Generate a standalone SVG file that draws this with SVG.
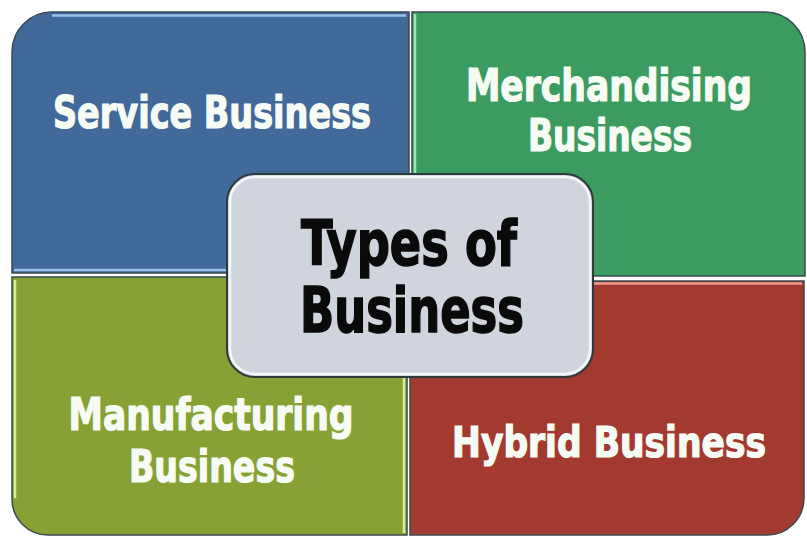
<svg xmlns="http://www.w3.org/2000/svg" width="807" height="536" viewBox="0 0 807 536">
<defs>
<style>
.q{stroke:#3a4a50;stroke-width:1.5}
.hl{fill:none;stroke-width:2.5}
.lbl{font-family:"DejaVu Sans Condensed","DejaVu Sans",sans-serif;font-stretch:condensed;font-weight:bold;fill:#f6fbf4;stroke:#f6fbf4;stroke-width:1.2;text-anchor:middle}
.ctr{font-family:"DejaVu Sans Condensed","DejaVu Sans",sans-serif;font-stretch:condensed;font-weight:bold;fill:#0a0a0a;stroke:#0a0a0a;stroke-width:1.5;text-anchor:middle}
</style>
</defs>
<rect width="807" height="536" fill="#ffffff"/>
<g id="service">
<path class="q" d="M12,52 A40,40 0 0 1 52,12 H409 V273 H12 Z" fill="#41699a"/>
<path class="hl" stroke="#9cc2e6" d="M52,15.5 H406"/>
<path class="hl" stroke="#9cc2e6" d="M14,270 H406"/>
<text class="lbl" x="212" y="128" font-size="44" textLength="318" lengthAdjust="spacingAndGlyphs">Service Business</text>
</g>
<g id="merchandising">
<path class="q" d="M412,12 H765 A40,40 0 0 1 805,52 V276 H412 Z" fill="#3c9b5f"/>
<path class="hl" stroke="#9fe6b5" d="M415,14 V273"/>
<text class="lbl" x="609" y="101" font-size="44" textLength="286" lengthAdjust="spacingAndGlyphs">Merchandising</text>
<text class="lbl" x="610" y="151" font-size="44" textLength="164" lengthAdjust="spacingAndGlyphs">Business</text>
</g>
<g id="manufacturing">
<path class="q" d="M12,277 H407 V535 H48 A36,36 0 0 1 12,499 Z" fill="#87a134"/>
<path class="hl" stroke="#d8ec9a" d="M15,280 V498"/>
<path class="hl" stroke="#d8ec9a" d="M404,378 V533"/>
<text class="lbl" x="211" y="430" font-size="44" textLength="285" lengthAdjust="spacingAndGlyphs">Manufacturing</text>
<text class="lbl" x="212" y="482" font-size="44" textLength="166" lengthAdjust="spacingAndGlyphs">Business</text>
</g>
<g id="hybrid">
<path class="q" d="M410,281 H804 V498 A37,37 0 0 1 767,535 H410 Z" fill="#a33a2f"/>
<path class="hl" stroke="#f19a8a" d="M412,283.5 H802"/>
<text class="lbl" x="609" y="457" font-size="42" textLength="314" lengthAdjust="spacingAndGlyphs">Hybrid Business</text>
</g>
<g id="types-of-business">
<rect x="227" y="174" width="366" height="203" rx="28" fill="#cfd4dd" stroke="#2f3a3a" stroke-width="2"/>
<rect x="230" y="177" width="360" height="197" rx="25" fill="none" stroke="#f4f6f8" stroke-width="2.5"/>
<text class="ctr" x="409" y="265" font-size="62" textLength="216" lengthAdjust="spacingAndGlyphs">Types of</text>
<text class="ctr" x="412" y="332" font-size="62" textLength="224" lengthAdjust="spacingAndGlyphs">Business</text>
</g>
</svg>
